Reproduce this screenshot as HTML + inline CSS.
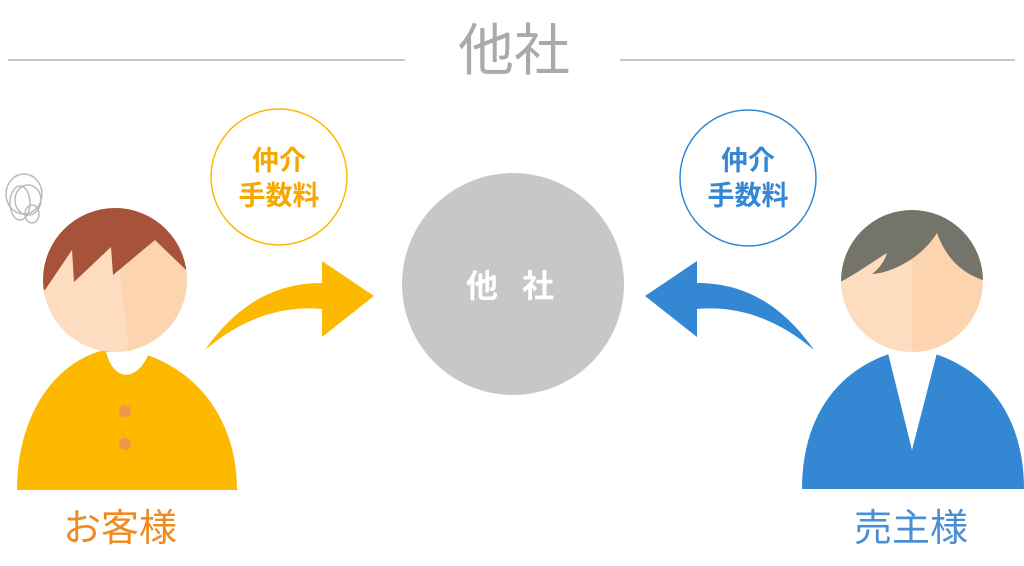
<!DOCTYPE html>
<html><head><meta charset="utf-8"><style>
html,body{margin:0;padding:0;background:#fff;}
svg{display:block;}
text{font-family:"Liberation Sans","Noto Sans CJK JP",sans-serif;}
</style></head><body>
<svg width="1024" height="566" viewBox="0 0 1024 566" xmlns="http://www.w3.org/2000/svg">
<line x1="8" y1="60" x2="405" y2="60" stroke="#c8c8c8" stroke-width="2"/>
<line x1="620" y1="60" x2="1015" y2="60" stroke="#c8c8c8" stroke-width="2"/>
<text x="514" y="70" text-anchor="middle" font-size="56" fill="#aaaaaa">他社</text>

<!-- scribble -->
<g fill="none" stroke="#bbb" stroke-width="1.5">
<ellipse cx="24" cy="194" rx="18" ry="20"/>
<ellipse cx="28" cy="200" rx="13" ry="15"/>
<ellipse cx="20" cy="203" rx="10" ry="17"/>
<ellipse cx="32" cy="214" rx="7" ry="9"/>
</g>

<!-- left person -->
<path d="M17,490 C17,410 60,355 115,348 C185,355 237,410 237,490 Z" fill="#fcb900"/>
<path d="M106,352 C115,385 140,380 150,350 Z" fill="#fff"/>
<circle cx="125" cy="411" r="6" fill="#f0954a"/>
<circle cx="125" cy="444" r="6" fill="#f0954a"/>
<clipPath id="hl"><circle cx="115" cy="280" r="72"/></clipPath>
<g clip-path="url(#hl)">
<rect x="40" y="200" width="160" height="160" fill="#fddcc0"/>
<path d="M112,200 L130,360 L200,360 L200,200 Z" fill="#fdd4b0"/>
<path d="M40,200 L200,200 L200,270 L186,270 L155,240 L113,275 L111,247 L74,282 L72,250 L45,290 L40,290 Z" fill="#a6533a"/>
</g>

<!-- right person -->
<path d="M802,489 C802,410 845,360 912,348 C980,360 1024,410 1024,489 Z" fill="#3488d3"/>
<path d="M887,349 L912,450 L938,349 Z" fill="#fff"/>
<clipPath id="hr"><circle cx="912" cy="281" r="71"/></clipPath>
<g clip-path="url(#hr)">
<rect x="838" y="205" width="150" height="160" fill="#fddcc0"/>
<rect x="912" y="205" width="80" height="160" fill="#fdd4b0"/>
<path d="M838,205 L990,205 L990,282 C960,275 945,255 937,233 C920,260 890,273 872,274 C880,268 885,260 887,253 C872,262 855,275 838,283 Z" fill="#75746b"/>
</g>

<!-- center -->
<circle cx="513" cy="284" r="111" fill="#c5c8c7"/>
<text x="522" y="297" text-anchor="middle" font-size="32" font-weight="bold" fill="#fff" letter-spacing="24">他社</text>

<!-- arrows -->
<path d="M205,350 C240,300 280,283 322,283 L322,261 L374,296 L322,337 L322,309 C280,305 240,320 205,350 Z" fill="#fcb900"/>
<path d="M814,350 C779,300 739,283 697,283 L697,261 L645,296 L697,337 L697,309 C739,305 779,320 814,350 Z" fill="#3488d3"/>

<!-- fee circles -->
<circle cx="279" cy="177" r="68" fill="#fff" stroke="#fcb900" stroke-width="1.5"/>
<text x="279" y="170" text-anchor="middle" font-size="27" font-weight="bold" fill="#f5a800">仲介</text>
<text x="279" y="205" text-anchor="middle" font-size="27" font-weight="bold" fill="#f5a800">手数料</text>
<circle cx="748" cy="178" r="68" fill="#fff" stroke="#3488d3" stroke-width="1.5"/>
<text x="748" y="170" text-anchor="middle" font-size="27" font-weight="bold" fill="#3488d3">仲介</text>
<text x="748" y="205" text-anchor="middle" font-size="27" font-weight="bold" fill="#3488d3">手数料</text>

<text x="120" y="541" text-anchor="middle" font-size="38" fill="#f08a1e">お客様</text>
<text x="911" y="541" text-anchor="middle" font-size="38" fill="#4a8fd4">売主様</text>
</svg>
</body></html>
